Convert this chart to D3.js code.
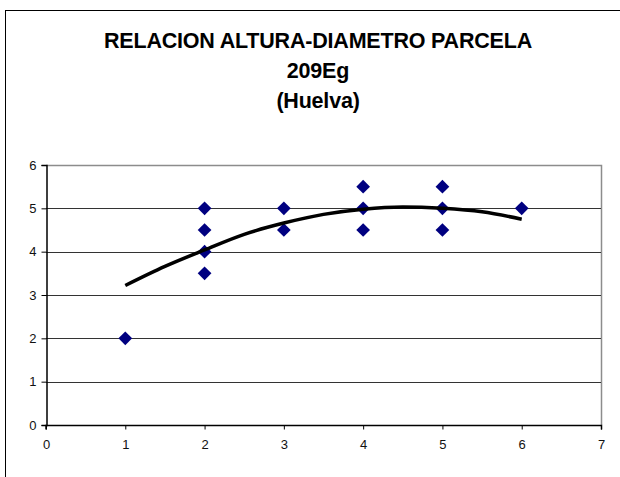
<!DOCTYPE html>
<html>
<head>
<meta charset="utf-8">
<script src="https://cdn.jsdelivr.net/npm/d3@7"></script>
<style>
  body { margin: 0; background: #fff; }
  svg { font-family: "Liberation Sans", Arial, sans-serif; display: block; }
  .axis text { font-size: 13px; fill: #111; }
</style>
</head>
<body>
<div id="chart"></div>
<script>
// Data
const titleLines = ['RELACION ALTURA-DIAMETRO PARCELA', '209Eg', '(Huelva)'];
const diametro = [1, 2, 2, 2, 2, 3, 3, 4, 4, 4, 5, 5, 5, 6];
const altura = [2, 5, 4.5, 4, 3.5, 5, 4.5, 5.5, 5, 4.5, 5.5, 5, 4.5, 5];
// trend line
const trendX = [1, 1.5, 2, 2.5, 3, 3.5, 4, 4.5, 5, 5.5, 6];
const trendY = [3.22, 3.66, 4.04, 4.4, 4.66, 4.86, 4.98, 5.03, 5.0, 4.92, 4.75];
const xTicks = [0, 1, 2, 3, 4, 5, 6, 7];
const yTicks = [0, 1, 2, 3, 4, 5, 6];

const width = 620;
const height = 477;

const svg = d3.select('#chart')
  .append('svg')
  .attr('width', width)
  .attr('height', height);

// outer chart border (runs off the right and bottom edges)
svg.append('rect')
  .attr('x', 5.5).attr('y', 10.5)
  .attr('width', 700).attr('height', 600)
  .attr('fill', 'none')
  .attr('stroke', '#000')
  .attr('stroke-width', 1);

const plot = { left: 46, right: 601, top: 165, bottom: 425 };

const xScale = d3.scaleLinear().domain([0, 7]).range([plot.left, plot.right]);
const yScale = d3.scaleLinear().domain([0, 6]).range([plot.bottom, plot.top]);

// title
svg.append('text')
  .attr('text-anchor', 'middle')
  .attr('font-weight', 'bold')
  .attr('font-size', 21.5)
  .attr('letter-spacing', -0.2)
  .selectAll('tspan')
  .data(titleLines)
  .join('tspan')
  .attr('x', 318)
  .attr('y', (d, i) => 48 + i * 30)
  .text(d => d);

// plot frame (top + right grey)
svg.append('path')
  .attr('d', `M${plot.left},${plot.top + 0.5}H${plot.right + 0.5}V${plot.bottom}`)
  .attr('fill', 'none')
  .attr('stroke', '#8c8c8c')
  .attr('stroke-width', 1.5);

// gridlines
svg.append('g')
  .selectAll('line')
  .data(yTicks.filter(d => d > 0 && d < 6))
  .join('line')
  .attr('x1', plot.left)
  .attr('x2', plot.right)
  .attr('y1', d => Math.round(yScale(d)) + 0.5)
  .attr('y2', d => Math.round(yScale(d)) + 0.5)
  .attr('stroke', '#333')
  .attr('stroke-width', 1);

// axes
const xAxis = d3.axisBottom(xScale).tickValues(xTicks).tickSize(4).tickPadding(10).tickFormat(d3.format('d'));
const yAxis = d3.axisLeft(yScale).tickValues(yTicks).tickSize(5).tickPadding(5).tickFormat(d3.format('d'));

const gx = svg.append('g')
  .attr('class', 'axis')
  .attr('transform', `translate(0, ${plot.bottom + 0.5})`)
  .call(xAxis);
const gy = svg.append('g')
  .attr('class', 'axis')
  .attr('transform', `translate(${plot.left + 0.5}, 0)`)
  .call(yAxis);

[gx, gy].forEach(g => {
  g.attr('font-size', null).attr('font-family', null);
  g.select('.domain').attr('stroke', '#000').attr('stroke-width', 1.5);
  g.selectAll('.tick line').attr('stroke', '#000');
});
gx.select('.domain').attr('d', `M${plot.left},4V0H${plot.right + 0.5}V4`);

// points
const diamond = d3.symbol().type(d3.symbolDiamond2).size(120);
svg.append('g')
  .selectAll('path')
  .data(diametro.map((d, i) => [d, altura[i]]))
  .join('path')
  .attr('d', diamond)
  .attr('transform', d => `translate(${xScale(d[0])}, ${yScale(d[1])})`)
  .attr('fill', '#000080');

// trend line
const line = d3.line()
  .x(d => xScale(d[0]))
  .y(d => yScale(d[1]))
  .curve(d3.curveMonotoneX);

svg.append('path')
  .datum(trendX.map((d, i) => [d, trendY[i]]))
  .attr('d', line)
  .attr('fill', 'none')
  .attr('stroke', '#000')
  .attr('stroke-width', 3.5);
</script>
</body>
</html>
